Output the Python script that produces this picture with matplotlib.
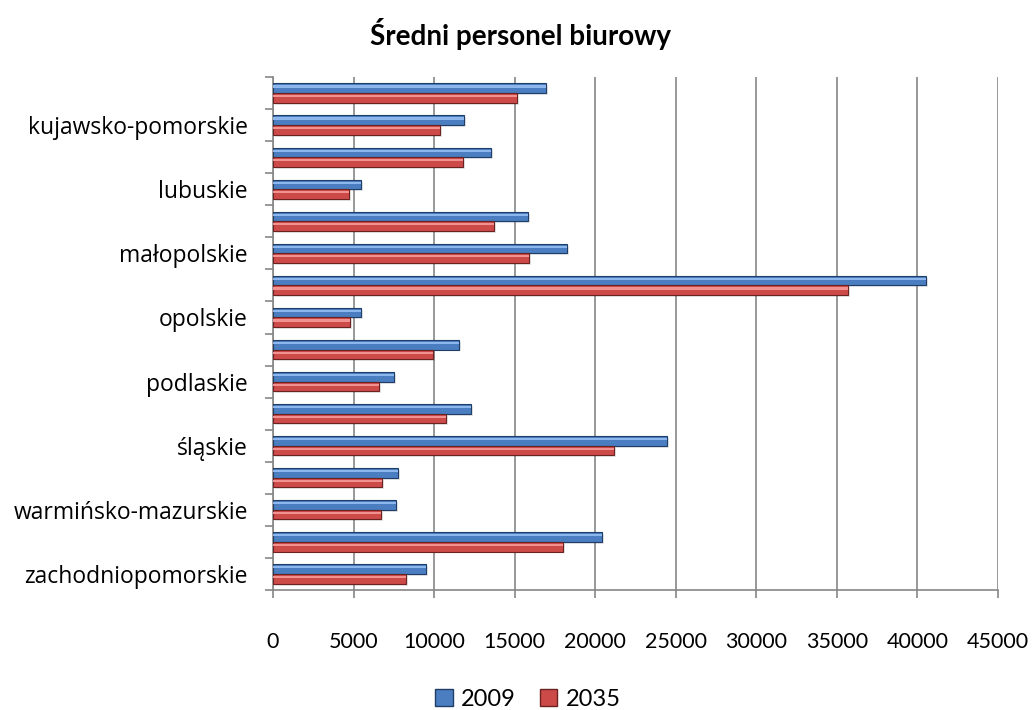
import matplotlib
matplotlib.use("Agg")
import matplotlib.pyplot as plt
import numpy as np
from matplotlib.patches import Patch

plt.rcParams["font.family"] = ["Open Sans", "DejaVu Sans"]

REGIONS = ["dolnośląskie", "kujawsko-pomorskie", "lubelskie", "lubuskie",
           "łódzkie", "małopolskie", "mazowieckie", "opolskie",
           "podkarpackie", "podlaskie", "pomorskie", "śląskie",
           "świętokrzyskie", "warmińsko-mazurskie", "wielkopolskie",
           "zachodniopomorskie"]
V2009 = [16950, 11850, 13550, 5480, 15840, 18260, 40560, 5490,
         11560, 7530, 12310, 24440, 7780, 7650, 20430, 9510]
V2035 = [15150, 10380, 11790, 4740, 13730, 15900, 35670, 4770,
         9950, 6580, 10760, 21180, 6790, 6720, 18010, 8270]
XTICKS = list(range(0, 45001, 5000))

BLUE, BLUE_E, BLUE_HI = "#4A7EC0", "#1F3D66", "#8DB6EC"
RED, RED_E, RED_HI = "#CC4A48", "#6B2221", "#F29290"

fig = plt.figure(figsize=(10.35, 7.10), dpi=100)
ax = fig.add_axes([273 / 1035, 1 - 590 / 710, 725 / 1035, 513 / 710])

y = np.arange(len(REGIONS))
h = 0.30
# soft drop shadow
ax.barh(y - h / 2 + 0.06, V2009, h, left=120, color="#000000", alpha=0.10, zorder=2)
ax.barh(y + h / 2 + 0.06, V2035, h, left=120, color="#000000", alpha=0.10, zorder=2)
ax.barh(y - h / 2, V2009, h, color=BLUE, edgecolor=BLUE_E, linewidth=0.8, zorder=3)
ax.barh(y + h / 2, V2035, h, color=RED, edgecolor=RED_E, linewidth=0.8, zorder=3)
# highlight stripe (bevel look)
ax.barh(y - h / 2 - h * 0.18, V2009, h * 0.22, color=BLUE_HI, linewidth=0, zorder=4)
ax.barh(y + h / 2 - h * 0.18, V2035, h * 0.22, color=RED_HI, linewidth=0, zorder=4)

ax.set_ylim(len(REGIONS) - 0.5, -0.5)
ax.set_xlim(0, 45000)
ax.set_xticks(XTICKS)
ax.set_xticklabels([str(t) for t in XTICKS], fontsize=15.5, family=["Lato", "DejaVu Sans"])
ax.set_yticks(y)
ax.set_yticklabels([r if i % 2 == 1 else "" for i, r in enumerate(REGIONS)], fontsize=16.5)
ax.set_yticks(np.arange(-0.5, len(REGIONS), 1.0), minor=True)
ax.tick_params(axis="y", which="major", length=0, pad=18)
ax.tick_params(axis="y", which="minor", length=6, color="#868686", width=1.2)
ax.tick_params(axis="x", length=6, color="#868686", width=1.2, pad=24)

ax.grid(True, axis="x", color="#868686", linewidth=1.2, zorder=0)
ax.set_axisbelow(True)
for s in ("top", "right"):
    ax.spines[s].set_visible(False)
for s in ("left", "bottom"):
    ax.spines[s].set_color("#868686")
    ax.spines[s].set_linewidth(1.2)

fig.text(0.503, 1 - 34 / 710, "Średni personel biurowy", ha="center", va="center",
         fontsize=20, fontweight="bold", family=["Lato", "DejaVu Sans"])

handles = [Patch(facecolor=BLUE, edgecolor=BLUE_E, label="2009"),
           Patch(facecolor=RED, edgecolor=RED_E, label="2035")]
fig.legend(handles=handles, loc="center", bbox_to_anchor=(0.51, 1 - 699 / 710),
           ncol=2, frameon=False, handlelength=0.75, handleheight=0.75,
           handletextpad=0.35, columnspacing=1.0, borderpad=0.1,
           prop={"family": ["Lato", "DejaVu Sans"], "size": 17})

fig.savefig("out.png", dpi=100)
